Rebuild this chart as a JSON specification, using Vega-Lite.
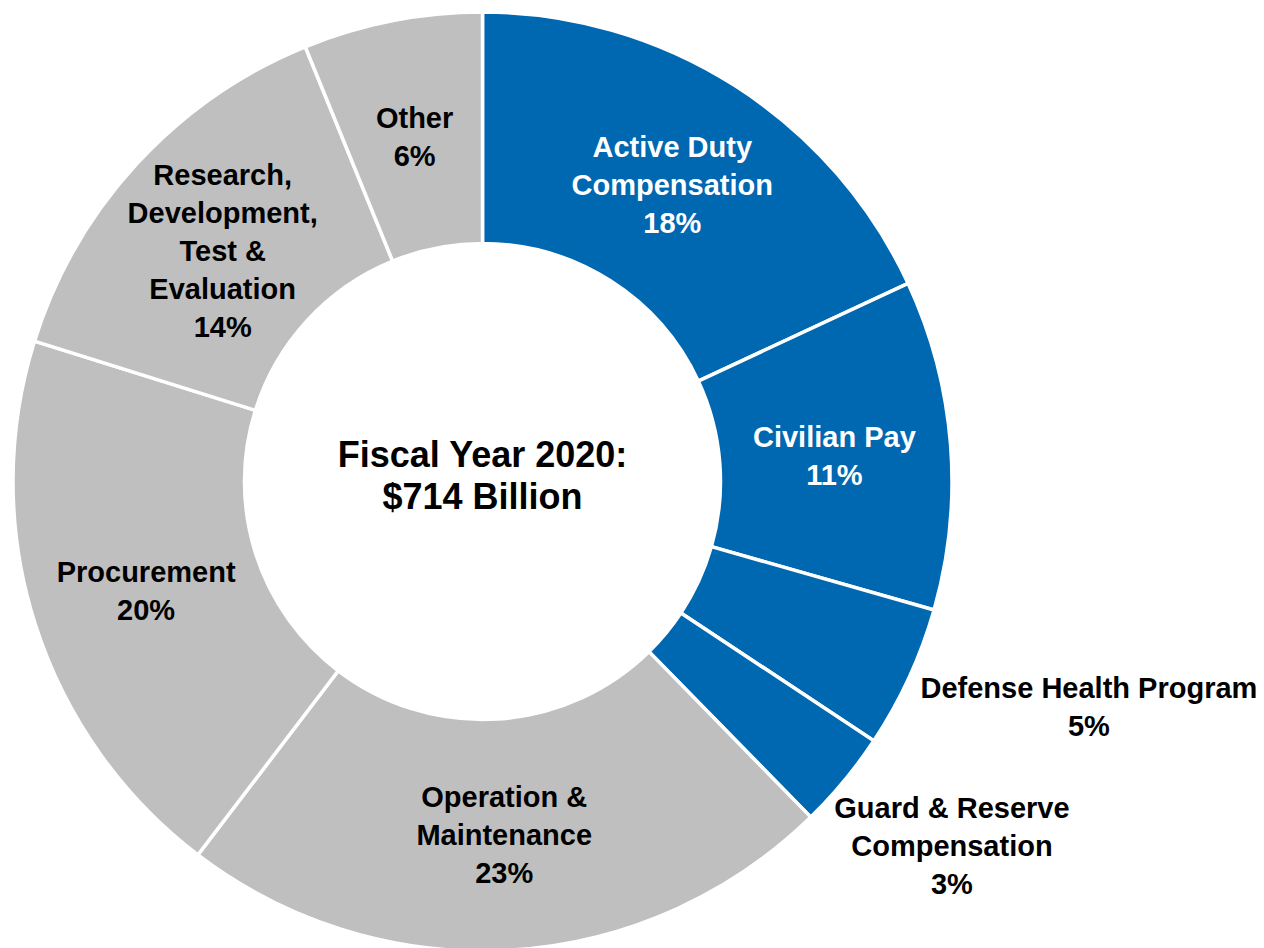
{
  "$schema": "https://vega.github.io/schema/vega-lite/v6.json",
  "width": 965,
  "height": 963,
  "autosize": {"type": "none"},
  "padding": {"left": 0, "top": 0, "right": 299, "bottom": 0},
  "background": "white",
  "view": {"stroke": null},
  "config": {"text": {"font": "Liberation Sans", "fontWeight": "bold"}},
  "data": {
    "values": [
      {"idx": 1, "name": "Active Duty Compensation", "billions": 129, "group": "Pay", "label": "Active Duty\nCompensation\n18%"},
      {"idx": 2, "name": "Civilian Pay", "billions": 81, "group": "Pay", "label": "Civilian Pay\n11%"},
      {"idx": 3, "name": "Defense Health Program", "billions": 35, "group": "Pay", "label": "Defense Health Program\n5%"},
      {"idx": 4, "name": "Guard & Reserve Compensation", "billions": 24, "group": "Pay", "label": "Guard & Reserve\nCompensation\n3%"},
      {"idx": 5, "name": "Operation & Maintenance", "billions": 162, "group": "Other", "label": "Operation &\nMaintenance\n23%"},
      {"idx": 6, "name": "Procurement", "billions": 139, "group": "Other", "label": "Procurement\n20%"},
      {"idx": 7, "name": "Research, Development, Test & Evaluation", "billions": 100, "group": "Other", "label": "Research,\nDevelopment,\nTest &\nEvaluation\n14%"},
      {"idx": 8, "name": "Other", "billions": 44, "group": "Other", "label": "Other\n6%"}
    ]
  },
  "layer": [
    {
      "mark": {"type": "arc", "outerRadius": 469.5, "innerRadius": 238, "stroke": "white", "strokeWidth": 3.5},
      "encoding": {
        "theta": {"field": "billions", "type": "quantitative", "stack": true},
        "order": {"field": "idx", "type": "quantitative"},
        "color": {"field": "group", "type": "nominal", "scale": {"domain": ["Pay", "Other"], "range": ["#0067B1", "#BFBFBF"]}, "legend": null}
      }
    },
    {
      "mark": {"type": "text", "radius": 353, "dy": -16, "fontSize": 29, "lineHeight": 38, "lineBreak": "\n", "align": "center", "baseline": "middle"},
      "encoding": {
        "theta": {"field": "billions", "type": "quantitative", "stack": true},
        "order": {"field": "idx", "type": "quantitative"},
        "text": {"condition": {"test": "datum.name === 'Civilian Pay' || datum.name === 'Procurement' || datum.name === 'Other'", "field": "label"}, "value": ""},
        "color": {"condition": {"test": "datum.group === 'Pay'", "value": "white"}, "value": "black"}
      }
    },
    {
      "mark": {"type": "text", "radius": 353, "dy": -36, "fontSize": 29, "lineHeight": 38, "lineBreak": "\n", "align": "center", "baseline": "middle"},
      "encoding": {
        "theta": {"field": "billions", "type": "quantitative", "stack": true},
        "order": {"field": "idx", "type": "quantitative"},
        "text": {"condition": {"test": "datum.name === 'Active Duty Compensation' || datum.name === 'Operation & Maintenance'", "field": "label"}, "value": ""},
        "color": {"condition": {"test": "datum.group === 'Pay'", "value": "white"}, "value": "black"}
      }
    },
    {
      "mark": {"type": "text", "radius": 353, "dy": -67, "fontSize": 29, "lineHeight": 38, "lineBreak": "\n", "align": "center", "baseline": "middle", "color": "black"},
      "encoding": {
        "theta": {"field": "billions", "type": "quantitative", "stack": true},
        "order": {"field": "idx", "type": "quantitative"},
        "text": {"condition": {"test": "datum.name === 'Research, Development, Test & Evaluation'", "field": "label"}, "value": ""}
      }
    },
    {
      "mark": {"type": "text", "radius": 640, "dx": 25, "dy": -60, "fontSize": 29, "lineHeight": 38, "lineBreak": "\n", "align": "center", "baseline": "middle", "color": "black"},
      "encoding": {
        "theta": {"field": "billions", "type": "quantitative", "stack": true},
        "order": {"field": "idx", "type": "quantitative"},
        "text": {"condition": {"test": "datum.name === 'Defense Health Program'", "field": "label"}, "value": ""}
      }
    },
    {
      "mark": {"type": "text", "radius": 600, "dx": 7, "dy": -55, "fontSize": 29, "lineHeight": 38, "lineBreak": "\n", "align": "center", "baseline": "middle", "color": "black"},
      "encoding": {
        "theta": {"field": "billions", "type": "quantitative", "stack": true},
        "order": {"field": "idx", "type": "quantitative"},
        "text": {"condition": {"test": "datum.name === 'Guard & Reserve Compensation'", "field": "label"}, "value": ""}
      }
    },
    {
      "data": {"values": [{"title": "Fiscal Year 2020:\n$714 Billion"}]},
      "mark": {"type": "text", "fontSize": 36, "lineHeight": 42, "lineBreak": "\n", "align": "center", "baseline": "middle", "dy": -26, "color": "black"},
      "encoding": {
        "text": {"field": "title", "type": "nominal"}
      }
    }
  ]
}
